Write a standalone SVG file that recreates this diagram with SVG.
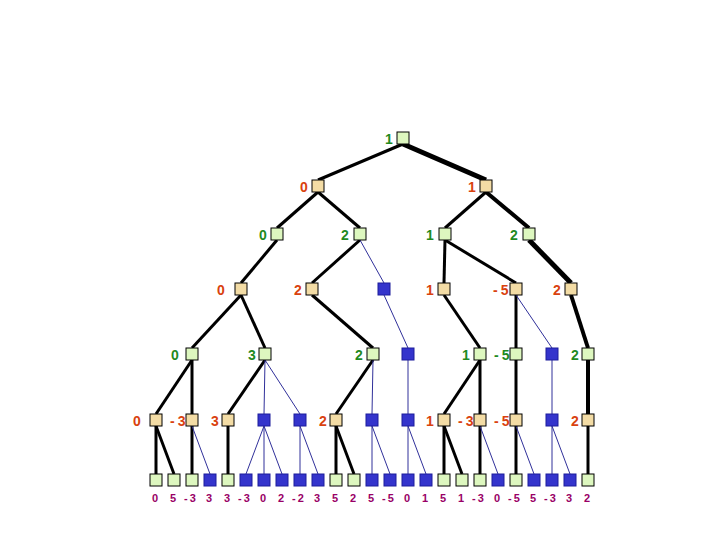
<svg xmlns="http://www.w3.org/2000/svg" width="720" height="540" viewBox="0 0 720 540">
<style>
.e{stroke:#000;stroke-width:3;fill:none;stroke-linecap:butt}
.e4{stroke:#000;stroke-width:4;fill:none}
.e5{stroke:#000;stroke-width:5;fill:none}
.t{stroke:#30309a;stroke-width:1;fill:none}
.g{fill:#ddf7bf;stroke:#000;stroke-width:1}
.n{fill:#f3dca5;stroke:#000;stroke-width:1}
.b{fill:#3434cc;stroke:#1c1c9c;stroke-width:1}
.lg{font-family:"Liberation Sans",Arial,sans-serif;font-weight:bold;font-size:14px;fill:#1f8a1f}
.lo{font-family:"Liberation Sans",Arial,sans-serif;font-weight:bold;font-size:14px;fill:#d9420f}
.neg{letter-spacing:3px}
.lf{font-family:"Liberation Sans",Arial,sans-serif;font-weight:bold;font-size:11px;fill:#990066;text-anchor:middle}
.lfn{letter-spacing:2px}
</style>
<rect width="720" height="540" fill="#fff"/>
<g id="connectors">
<line class="e" x1="403" y1="144" x2="318" y2="180"/>
<line class="e5" x1="403" y1="144" x2="486" y2="180"/>
<line class="e" x1="318" y1="192" x2="277" y2="228"/>
<line class="e" x1="318" y1="192" x2="360" y2="228"/>
<line class="e" x1="486" y1="192" x2="445" y2="228"/>
<line class="e4" x1="486" y1="192" x2="529" y2="228"/>
<line class="e" x1="277" y1="240" x2="241" y2="283"/>
<line class="e" x1="360" y1="240" x2="312" y2="283"/>
<line class="t" x1="360" y1="240" x2="384" y2="283"/>
<line class="e" x1="445" y1="240" x2="444" y2="283"/>
<line class="e" x1="445" y1="240" x2="516" y2="283"/>
<line class="e5" x1="529" y1="240" x2="571" y2="283"/>
<line class="e" x1="241" y1="295" x2="192" y2="348"/>
<line class="e" x1="241" y1="295" x2="265" y2="348"/>
<line class="e" x1="312" y1="295" x2="373" y2="348"/>
<line class="t" x1="384" y1="295" x2="408" y2="348"/>
<line class="e" x1="444" y1="295" x2="480" y2="348"/>
<line class="e" x1="516" y1="295" x2="516" y2="348"/>
<line class="t" x1="516" y1="295" x2="552" y2="348"/>
<line class="e4" x1="571" y1="295" x2="588" y2="348"/>
<line class="e" x1="192" y1="360" x2="156" y2="414"/>
<line class="e" x1="192" y1="360" x2="192" y2="414"/>
<line class="e" x1="265" y1="360" x2="228" y2="414"/>
<line class="t" x1="265" y1="360" x2="264" y2="414"/>
<line class="t" x1="265" y1="360" x2="300" y2="414"/>
<line class="e" x1="373" y1="360" x2="336" y2="414"/>
<line class="t" x1="373" y1="360" x2="372" y2="414"/>
<line class="t" x1="408" y1="360" x2="408" y2="414"/>
<line class="e" x1="480" y1="360" x2="444" y2="414"/>
<line class="e" x1="480" y1="360" x2="480" y2="414"/>
<line class="e" x1="516" y1="360" x2="516" y2="414"/>
<line class="t" x1="552" y1="360" x2="552" y2="414"/>
<line class="e4" x1="588" y1="360" x2="588" y2="414"/>
<line class="e" x1="156" y1="426" x2="156" y2="474"/>
<line class="e" x1="156" y1="426" x2="174" y2="474"/>
<line class="e" x1="192" y1="426" x2="192" y2="474"/>
<line class="t" x1="192" y1="426" x2="210" y2="474"/>
<line class="e" x1="228" y1="426" x2="228" y2="474"/>
<line class="t" x1="264" y1="426" x2="246" y2="474"/>
<line class="t" x1="264" y1="426" x2="264" y2="474"/>
<line class="t" x1="264" y1="426" x2="282" y2="474"/>
<line class="t" x1="300" y1="426" x2="300" y2="474"/>
<line class="t" x1="300" y1="426" x2="318" y2="474"/>
<line class="e" x1="336" y1="426" x2="336" y2="474"/>
<line class="e" x1="336" y1="426" x2="354" y2="474"/>
<line class="t" x1="372" y1="426" x2="372" y2="474"/>
<line class="t" x1="372" y1="426" x2="390" y2="474"/>
<line class="t" x1="408" y1="426" x2="408" y2="474"/>
<line class="t" x1="408" y1="426" x2="426" y2="474"/>
<line class="e" x1="444" y1="426" x2="444" y2="474"/>
<line class="e" x1="444" y1="426" x2="462" y2="474"/>
<line class="e" x1="480" y1="426" x2="480" y2="474"/>
<line class="t" x1="480" y1="426" x2="498" y2="474"/>
<line class="e" x1="516" y1="426" x2="516" y2="474"/>
<line class="t" x1="516" y1="426" x2="534" y2="474"/>
<line class="t" x1="552" y1="426" x2="552" y2="474"/>
<line class="t" x1="552" y1="426" x2="570" y2="474"/>
<line class="e" x1="588" y1="426" x2="588" y2="474"/>
</g>
<g id="n-root"><rect class="g" x="397" y="132" width="12" height="12"/><text class="lg" x="385" y="144">1</text></g>
<g id="n1a"><rect class="n" x="312" y="180" width="12" height="12"/><text class="lo" x="300" y="192">0</text></g>
<g id="n1b"><rect class="n" x="480" y="180" width="12" height="12"/><text class="lo" x="468" y="192">1</text></g>
<g id="n2a"><rect class="g" x="271" y="228" width="12" height="12"/><text class="lg" x="259" y="240">0</text></g>
<g id="n2b"><rect class="g" x="354" y="228" width="12" height="12"/><text class="lg" x="341" y="240">2</text></g>
<g id="n2c"><rect class="g" x="439" y="228" width="12" height="12"/><text class="lg" x="426" y="240">1</text></g>
<g id="n2d"><rect class="g" x="523" y="228" width="12" height="12"/><text class="lg" x="510" y="240">2</text></g>
<g id="n3a"><rect class="n" x="235" y="283" width="12" height="12"/><text class="lo" x="217" y="295">0</text></g>
<g id="n3b"><rect class="n" x="306" y="283" width="12" height="12"/><text class="lo" x="294" y="295">2</text></g>
<g id="n3c"><rect class="b" x="378" y="283" width="12" height="12"/></g>
<g id="n3d"><rect class="n" x="438" y="283" width="12" height="12"/><text class="lo" x="426" y="295">1</text></g>
<g id="n3e"><rect class="n" x="510" y="283" width="12" height="12"/><text class="lo neg" x="493" y="295">-5</text></g>
<g id="n3f"><rect class="n" x="565" y="283" width="12" height="12"/><text class="lo" x="553" y="295">2</text></g>
<g id="n4a"><rect class="g" x="186" y="348" width="12" height="12"/><text class="lg" x="171" y="360">0</text></g>
<g id="n4b"><rect class="g" x="259" y="348" width="12" height="12"/><text class="lg" x="248" y="360">3</text></g>
<g id="n4c"><rect class="g" x="367" y="348" width="12" height="12"/><text class="lg" x="355" y="360">2</text></g>
<g id="n4d"><rect class="b" x="402" y="348" width="12" height="12"/></g>
<g id="n4e"><rect class="g" x="474" y="348" width="12" height="12"/><text class="lg" x="462" y="360">1</text></g>
<g id="n4f"><rect class="g" x="510" y="348" width="12" height="12"/><text class="lg neg" x="494" y="360">-5</text></g>
<g id="n4g"><rect class="b" x="546" y="348" width="12" height="12"/></g>
<g id="n4h"><rect class="g" x="582" y="348" width="12" height="12"/><text class="lg" x="571" y="360">2</text></g>
<g id="n5a"><rect class="n" x="150" y="414" width="12" height="12"/><text class="lo" x="133" y="426">0</text></g>
<g id="n5b"><rect class="n" x="186" y="414" width="12" height="12"/><text class="lo neg" x="170" y="426">-3</text></g>
<g id="n5c"><rect class="n" x="222" y="414" width="12" height="12"/><text class="lo" x="211" y="426">3</text></g>
<g id="n5d"><rect class="b" x="258" y="414" width="12" height="12"/></g>
<g id="n5e"><rect class="b" x="294" y="414" width="12" height="12"/></g>
<g id="n5f"><rect class="n" x="330" y="414" width="12" height="12"/><text class="lo" x="319" y="426">2</text></g>
<g id="n5g"><rect class="b" x="366" y="414" width="12" height="12"/></g>
<g id="n5h"><rect class="b" x="402" y="414" width="12" height="12"/></g>
<g id="n5i"><rect class="n" x="438" y="414" width="12" height="12"/><text class="lo" x="426" y="426">1</text></g>
<g id="n5j"><rect class="n" x="474" y="414" width="12" height="12"/><text class="lo neg" x="458" y="426">-3</text></g>
<g id="n5k"><rect class="n" x="510" y="414" width="12" height="12"/><text class="lo neg" x="494" y="426">-5</text></g>
<g id="n5l"><rect class="b" x="546" y="414" width="12" height="12"/></g>
<g id="n5m"><rect class="n" x="582" y="414" width="12" height="12"/><text class="lo" x="571" y="426">2</text></g>
<g id="leaves">
<rect class="g" x="150" y="474" width="12" height="12"/>
<rect class="g" x="168" y="474" width="12" height="12"/>
<rect class="g" x="186" y="474" width="12" height="12"/>
<rect class="b" x="204" y="474" width="12" height="12"/>
<rect class="g" x="222" y="474" width="12" height="12"/>
<rect class="b" x="240" y="474" width="12" height="12"/>
<rect class="b" x="258" y="474" width="12" height="12"/>
<rect class="b" x="276" y="474" width="12" height="12"/>
<rect class="b" x="294" y="474" width="12" height="12"/>
<rect class="b" x="312" y="474" width="12" height="12"/>
<rect class="g" x="330" y="474" width="12" height="12"/>
<rect class="g" x="348" y="474" width="12" height="12"/>
<rect class="b" x="366" y="474" width="12" height="12"/>
<rect class="b" x="384" y="474" width="12" height="12"/>
<rect class="b" x="402" y="474" width="12" height="12"/>
<rect class="b" x="420" y="474" width="12" height="12"/>
<rect class="g" x="438" y="474" width="12" height="12"/>
<rect class="g" x="456" y="474" width="12" height="12"/>
<rect class="g" x="474" y="474" width="12" height="12"/>
<rect class="b" x="492" y="474" width="12" height="12"/>
<rect class="g" x="510" y="474" width="12" height="12"/>
<rect class="b" x="528" y="474" width="12" height="12"/>
<rect class="b" x="546" y="474" width="12" height="12"/>
<rect class="b" x="564" y="474" width="12" height="12"/>
<rect class="g" x="582" y="474" width="12" height="12"/>
</g>
<g id="leaf-labels">
<text class="lf" x="155" y="502">0</text>
<text class="lf" x="173" y="502">5</text>
<text class="lf lfn" x="191" y="502">-3</text>
<text class="lf" x="209" y="502">3</text>
<text class="lf" x="227" y="502">3</text>
<text class="lf lfn" x="245" y="502">-3</text>
<text class="lf" x="263" y="502">0</text>
<text class="lf" x="281" y="502">2</text>
<text class="lf lfn" x="299" y="502">-2</text>
<text class="lf" x="317" y="502">3</text>
<text class="lf" x="335" y="502">5</text>
<text class="lf" x="353" y="502">2</text>
<text class="lf" x="371" y="502">5</text>
<text class="lf lfn" x="389" y="502">-5</text>
<text class="lf" x="407" y="502">0</text>
<text class="lf" x="425" y="502">1</text>
<text class="lf" x="443" y="502">5</text>
<text class="lf" x="461" y="502">1</text>
<text class="lf lfn" x="479" y="502">-3</text>
<text class="lf" x="497" y="502">0</text>
<text class="lf lfn" x="515" y="502">-5</text>
<text class="lf" x="533" y="502">5</text>
<text class="lf lfn" x="551" y="502">-3</text>
<text class="lf" x="569" y="502">3</text>
<text class="lf" x="587" y="502">2</text>
</g>
</svg>
